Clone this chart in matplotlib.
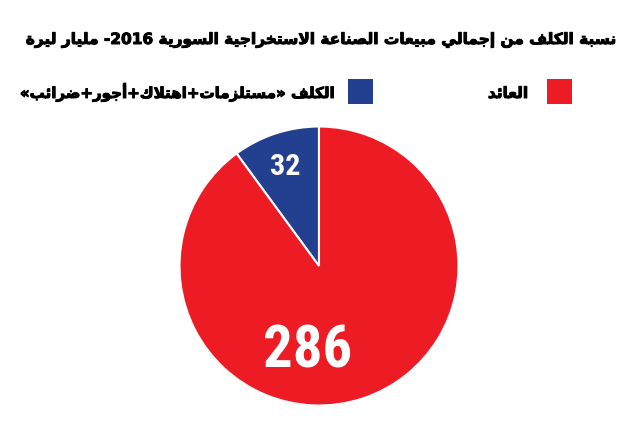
import matplotlib
matplotlib.use("Agg")
import matplotlib.pyplot as plt
from matplotlib import font_manager
from matplotlib.textpath import TextPath
import matplotlib.patheffects as pe
import numpy as np

# ---------------- data ----------------
TITLE = "نسبة الكلف من إجمالي مبيعات الصناعة الاستخراجية السورية 2016- مليار ليرة"
CATEGORIES = ["الكلف «مستلزمات+اهتلاك+أجور+ضرائب»", "العائد"]
VALUES = [32, 286]
COLORS = ["#233F8F", "#ED1C24"]

# ---------------- minimal Arabic shaping ----------------
FORMS = {
    'ا': (0xFE8D, 0xFE8E, None, None), 'أ': (0xFE83, 0xFE84, None, None),
    'إ': (0xFE87, 0xFE88, None, None), 'ة': (0xFE93, 0xFE94, None, None),
    'د': (0xFEA9, 0xFEAA, None, None), 'ر': (0xFEAD, 0xFEAE, None, None),
    'ز': (0xFEAF, 0xFEB0, None, None), 'و': (0xFEED, 0xFEEE, None, None),
    'ب': (0xFE8F, 0xFE90, 0xFE91, 0xFE92), 'ت': (0xFE95, 0xFE96, 0xFE97, 0xFE98),
    'ج': (0xFE9D, 0xFE9E, 0xFE9F, 0xFEA0), 'خ': (0xFEA5, 0xFEA6, 0xFEA7, 0xFEA8),
    'س': (0xFEB1, 0xFEB2, 0xFEB3, 0xFEB4), 'ص': (0xFEB9, 0xFEBA, 0xFEBB, 0xFEBC),
    'ض': (0xFEBD, 0xFEBE, 0xFEBF, 0xFEC0), 'ع': (0xFEC9, 0xFECA, 0xFECB, 0xFECC),
    'ف': (0xFED1, 0xFED2, 0xFED3, 0xFED4), 'ك': (0xFED9, 0xFEDA, 0xFEDB, 0xFEDC),
    'ل': (0xFEDD, 0xFEDE, 0xFEDF, 0xFEE0), 'م': (0xFEE1, 0xFEE2, 0xFEE3, 0xFEE4),
    'ن': (0xFEE5, 0xFEE6, 0xFEE7, 0xFEE8), 'ه': (0xFEE9, 0xFEEA, 0xFEEB, 0xFEEC),
    'ي': (0xFEF1, 0xFEF2, 0xFEF3, 0xFEF4), 'ئ': (0xFE89, 0xFE8A, 0xFE8B, 0xFE8C),
}
LAMALEF = {'ا': (0xFEFB, 0xFEFC), 'أ': (0xFEF7, 0xFEF8), 'إ': (0xFEF9, 0xFEFA)}
MIRROR = {'«': '»', '»': '«', '(': ')', ')': '('}


def dual(c):
    return c in FORMS and FORMS[c][2] is not None


def shape(text):
    out = []
    i = 0
    n = len(text)
    while i < n:
        c = text[i]
        if c not in FORMS:
            out.append(c)
            i += 1
            continue
        prev_join = i > 0 and dual(text[i - 1])
        if c == 'ل' and i + 1 < n and text[i + 1] in LAMALEF:
            iso, fin = LAMALEF[text[i + 1]]
            out.append(chr(fin if prev_join else iso))
            i += 2
            continue
        nxt_join = dual(c) and i + 1 < n and text[i + 1] in FORMS
        iso, fin, ini, med = FORMS[c]
        if prev_join and nxt_join:
            g = med
        elif prev_join:
            g = fin
        elif nxt_join:
            g = ini
        else:
            g = iso
        out.append(chr(g))
        i += 1
    rev = [MIRROR.get(ch, ch) for ch in reversed(out)]
    s = "".join(rev)
    res, run = [], []
    for ch in s:
        if ch.isdigit():
            run.append(ch)
        else:
            if run:
                res.append("".join(reversed(run)))
                run = []
            res.append(ch)
    if run:
        res.append("".join(reversed(run)))
    return "".join(res)


def first_font(names):
    for nm in names:
        try:
            font_manager.findfont(font_manager.FontProperties(family=nm, weight="bold"),
                                  fallback_to_default=False)
            return nm
        except Exception:
            continue
    return "Roboto"


# ---------------- figure ----------------
W, H, DPI = 631, 426, 100
fig = plt.figure(figsize=(W / DPI, H / DPI), dpi=DPI)
fig.patch.set_facecolor("white")

def px(x, y):
    return x / W, 1 - y / H

renderer = fig.canvas.get_renderer()
EMB = [pe.withStroke(linewidth=0.7, foreground="black")]

def fit_text(x_right, y_base, s, target_w, size0, **kw):
    t = fig.text(*px(x_right, y_base), s, ha="right", va="baseline",
                 fontsize=size0, path_effects=EMB, **kw)
    w = t.get_window_extent(renderer).width
    t.set_fontsize(size0 * target_w / w)
    return t

ARAB_FONT = dict(family=["DejaVu Sans"], fontweight="bold", color="black")

# title
fit_text(618, 44, shape(TITLE), 594, 14, **ARAB_FONT)

# legend
sq_w, sq_h = 25, 25
legend_sq_left = [348, 547]
legend_text_right = [333, 528]
legend_text_w = [314, 40]
for k in range(len(CATEGORIES)):
    rect = plt.Rectangle(px(legend_sq_left[k], 104), sq_w / W, sq_h / H,
                         transform=fig.transFigure, facecolor=COLORS[k],
                         edgecolor="none")
    fig.add_artist(rect)
    fit_text(legend_text_right[k], 98, shape(CATEGORIES[k]),
             legend_text_w[k], 11, **ARAB_FONT)

# pie
cx, cy, R = 319, 266, 140
ax = fig.add_axes([(cx - R) / W, (H - cy - R) / H, 2 * R / W, 2 * R / H])
wedges, _ = ax.pie(VALUES, colors=COLORS, startangle=90, counterclock=True,
                   radius=139.5 / 140,
                   wedgeprops=dict(edgecolor="white", linewidth=1.5))
ax.set_xlim(-1, 1)
ax.set_ylim(-1, 1)
ax.set_aspect("equal")
ax.axis("off")

narrow = first_font(["Liberation Sans Narrow", "Roboto Condensed",
                     "Open Sans Condensed"])
num_prop = font_manager.FontProperties(family=[narrow, "DejaVu Sans"], weight="bold")

label_ink_h = [22, 43]      # digit height in pixels
label_r = [0.77, 0.57]
label_dtheta = [0, -26]
for k, w in enumerate(wedges):
    s = str(VALUES[k])
    ink = TextPath((0, 0), s, prop=num_prop, size=100).get_extents().height
    size_pt = 100 * label_ink_h[k] / ink * 72 / DPI
    mid = np.deg2rad((w.theta1 + w.theta2) / 2 + label_dtheta[k])
    x = label_r[k] * np.cos(mid)
    y = label_r[k] * np.sin(mid)
    ax.text(x, y, s, ha="center", va="center_baseline",
            color="white", fontsize=size_pt, fontproperties=num_prop)
    ax.texts[-1].set_fontsize(size_pt)

fig.savefig("out.png", dpi=DPI, facecolor="white")
